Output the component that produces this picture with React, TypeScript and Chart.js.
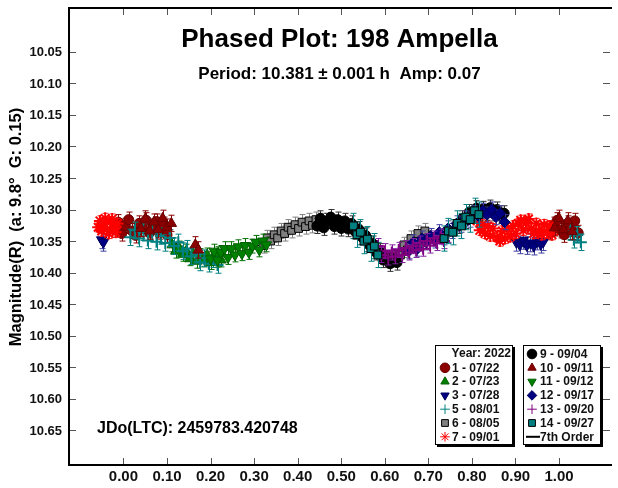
import React, { useEffect, useRef } from "react";
import { Chart, registerables } from "chart.js";
import { drawPoint } from "chart.js/helpers";

Chart.register(...registerables);

const FONT = "'Liberation Sans', Arial, Helvetica, sans-serif";

// ---------- tick labels ----------
const xTickValues = [0, 0.1, 0.2, 0.3, 0.4, 0.5, 0.6, 0.7, 0.8, 0.9, 1.0];
const yTickValues = [10.05, 10.1, 10.15, 10.2, 10.25, 10.3, 10.35, 10.4, 10.45, 10.5, 10.55, 10.6, 10.65];

// ---------- session data (phase, magnitude) ----------
const s1Phase = [-0.02, -0.012, -0.004, 0.004, 0.012, 0.02, 0.028, 0.036, 0.044, 0.052, 0.06, 0.068, 0.076, 0.084, 0.092, 0.1, 0.98, 0.988, 0.996, 1.004, 1.012, 1.02, 1.028, 1.036, 1.044];
const s1Mag = [10.332, 10.32, 10.338, 10.326, 10.316, 10.334, 10.341, 10.322, 10.33, 10.317, 10.337, 10.327, 10.319, 10.335, 10.324, 10.34, 10.336, 10.324, 10.317, 10.333, 10.34, 10.322, 10.331, 10.318, 10.337];

const s2Phase = [0.112, 0.12, 0.128, 0.136, 0.144, 0.152, 0.16, 0.168, 0.176, 0.184, 0.192, 0.2, 0.208, 0.216, 0.224];
const s2Mag = [10.356, 10.366, 10.361, 10.371, 10.366, 10.378, 10.37, 10.382, 10.373, 10.38, 10.372, 10.384, 10.375, 10.37, 10.38];

const s3Phase = [-0.05, -0.046, 0.902, 0.91, 0.918, 0.926, 0.934, 0.942, 0.95, 0.958, 0.964];
const s3Mag = [10.348, 10.352, 10.352, 10.356, 10.349, 10.357, 10.353, 10.358, 10.35, 10.355, 10.351];

const s5Phase = [0.016, 0.026, 0.036, 0.046, 0.056, 0.066, 0.076, 0.086, 0.096, 0.106, 0.116, 0.126, 0.136, 0.146, 0.156, 0.166, 0.176, 0.186, 0.196, 0.206, 0.216, 1.026, 1.034, 1.042, 1.05];
const s5Mag = [10.344, 10.333, 10.346, 10.336, 10.349, 10.338, 10.351, 10.342, 10.353, 10.345, 10.358, 10.352, 10.366, 10.362, 10.374, 10.37, 10.384, 10.377, 10.386, 10.379, 10.388, 10.335, 10.348, 10.34, 10.352];

const s6Phase = [0.322, 0.33, 0.338, 0.346, 0.354, 0.362, 0.37, 0.378, 0.386, 0.394, 0.402, 0.41, 0.418, 0.426, 0.434, 0.442, 0.45, 0.458, 0.636, 0.644, 0.652, 0.66, 0.668, 0.676, 0.684, 0.692, 0.7];
const s6Mag = [10.357, 10.345, 10.35, 10.34, 10.345, 10.334, 10.338, 10.328, 10.333, 10.324, 10.33, 10.32, 10.327, 10.318, 10.325, 10.316, 10.323, 10.318, 10.372, 10.356, 10.364, 10.346, 10.356, 10.338, 10.35, 10.334, 10.345];

const s7Phase = [-0.058, -0.054, -0.05, -0.046, -0.042, -0.038, -0.034, -0.03, -0.026, -0.022, -0.018, -0.014, 0.812, 0.818, 0.824, 0.83, 0.836, 0.842, 0.848, 0.858, 0.864, 0.87, 0.876, 0.882, 0.888, 0.894, 0.9, 0.906, 0.912, 0.918, 0.924, 0.93, 0.936, 0.942, 0.948, 0.954, 0.96, 0.966, 0.972, 0.978, 0.984];
const s7Mag = [10.328, 10.318, 10.334, 10.322, 10.314, 10.331, 10.338, 10.32, 10.315, 10.33, 10.336, 10.322, 10.318, 10.333, 10.324, 10.338, 10.326, 10.342, 10.33, 10.344, 10.35, 10.334, 10.346, 10.33, 10.343, 10.326, 10.338, 10.322, 10.317, 10.333, 10.321, 10.315, 10.33, 10.338, 10.322, 10.334, 10.34, 10.324, 10.337, 10.326, 10.34];

const s9Phase = [0.444, 0.452, 0.46, 0.468, 0.476, 0.484, 0.492, 0.5, 0.508, 0.516, 0.524, 0.532, 0.54, 0.548, 0.556, 0.564, 0.572, 0.58, 0.588, 0.596, 0.604, 0.612, 0.62, 0.628, 0.77, 0.778, 0.786, 0.794, 0.802, 0.81, 0.818, 0.826, 0.834, 0.842, 0.85, 0.858, 0.866, 0.874];
const s9Mag = [10.326, 10.314, 10.329, 10.318, 10.312, 10.327, 10.316, 10.33, 10.318, 10.331, 10.322, 10.335, 10.331, 10.344, 10.341, 10.356, 10.354, 10.368, 10.366, 10.38, 10.377, 10.386, 10.379, 10.384, 10.326, 10.314, 10.318, 10.304, 10.308, 10.298, 10.306, 10.299, 10.305, 10.297, 10.306, 10.3, 10.31, 10.306];

const s10Phase = [0.04, 0.05, 0.06, 0.07, 0.08, 0.09, 0.1, 0.11, 0.165, 0.172, 0.99, 1.0, 1.01, 1.02, 1.03];
const s10Mag = [10.33, 10.315, 10.334, 10.32, 10.332, 10.314, 10.328, 10.322, 10.356, 10.364, 10.329, 10.314, 10.332, 10.318, 10.335];

const s11Phase = [0.2, 0.208, 0.216, 0.224, 0.232, 0.24, 0.248, 0.256, 0.264, 0.272, 0.28, 0.288, 0.296, 0.304, 0.312, 0.32, 0.328];
const s11Mag = [10.378, 10.366, 10.38, 10.368, 10.362, 10.376, 10.362, 10.372, 10.359, 10.37, 10.357, 10.368, 10.358, 10.352, 10.364, 10.35, 10.356];

const s12Phase = [0.655, 0.665, 0.675, 0.685, 0.695, 0.705, 0.715, 0.725, 0.735, 0.745, 0.755, 0.765, 0.775, 0.785, 0.795, 0.805, 0.815, 0.825, 0.835, 0.845, 0.855, 0.865, 0.875];
const s12Mag = [10.366, 10.352, 10.362, 10.346, 10.352, 10.342, 10.349, 10.336, 10.344, 10.33, 10.334, 10.322, 10.324, 10.314, 10.316, 10.306, 10.31, 10.302, 10.308, 10.3, 10.312, 10.306, 10.32];

const s13Phase = [0.584, 0.592, 0.6, 0.608, 0.616, 0.624, 0.632, 0.64, 0.648, 0.656, 0.664, 0.672, 0.68, 0.688, 0.696, 0.704, 0.712, 0.72, 0.728, 0.736, 0.744];
const s13Mag = [10.358, 10.372, 10.366, 10.376, 10.368, 10.374, 10.364, 10.372, 10.361, 10.368, 10.358, 10.364, 10.354, 10.362, 10.35, 10.357, 10.346, 10.353, 10.343, 10.35, 10.34];

const s14Phase = [0.528, 0.536, 0.544, 0.552, 0.56, 0.568, 0.576, 0.584, 0.736, 0.746, 0.756, 0.766, 0.776, 0.786, 0.796, 0.806, 0.816];
const s14Mag = [10.326, 10.34, 10.336, 10.35, 10.347, 10.362, 10.358, 10.372, 10.346, 10.334, 10.336, 10.322, 10.326, 10.312, 10.316, 10.302, 10.308];

// per-session error (mag)
const sessionErr = [0.012, 0.011, 0.014, 0.013, 0.012, 0.008, 0.012, 0.013, 0.011, 0.012, 0.012, 0.02];

// 7th order fit curve
const fitPhase = [-0.05, 0, 0.05, 0.1, 0.15, 0.2, 0.25, 0.3, 0.35, 0.4, 0.45, 0.5, 0.55, 0.6, 0.65, 0.7, 0.75, 0.8, 0.85, 0.9, 0.95, 1.0, 1.05];
const fitMag = [10.33, 10.331, 10.334, 10.345, 10.366, 10.376, 10.37, 10.36, 10.342, 10.327, 10.32, 10.322, 10.338, 10.368, 10.365, 10.348, 10.33, 10.31, 10.31, 10.325, 10.333, 10.331, 10.334];

const sessionLabels = ["1 - 07/22", "2 - 07/23", "3 - 07/28", "5 - 08/01", "6 - 08/05", "7 - 09/01", "9 - 09/04", "10 - 09/11", "11 - 09/12", "12 - 09/17", "13 - 09/20", "14 - 09/27"];

type Sty = { bg: string; border: string; style: string; rot: number; r: number; bw: number; err: string };
const styles: Sty[] = [
  { bg: "#8B0000", border: "#6a0000", style: "circle", rot: 0, r: 5, bw: 1, err: "#8B0000" },
  { bg: "#008000", border: "#006000", style: "triangle", rot: 0, r: 6, bw: 1, err: "#007000" },
  { bg: "#000080", border: "#000060", style: "triangle", rot: 180, r: 6, bw: 1, err: "#4040a0" },
  { bg: "#008080", border: "#008080", style: "cross", rot: 0, r: 6, bw: 2, err: "#008080" },
  { bg: "#808080", border: "#000000", style: "rect", rot: 0, r: 5.5, bw: 1, err: "#808080" },
  { bg: "#ff0000", border: "#ff0000", style: "star", rot: 0, r: 6, bw: 2, err: "#ff2020" },
  { bg: "#000000", border: "#000000", style: "circle", rot: 0, r: 5, bw: 1, err: "#303030" },
  { bg: "#8B0000", border: "#6a0000", style: "triangle", rot: 0, r: 6, bw: 1, err: "#8B0000" },
  { bg: "#008000", border: "#006000", style: "triangle", rot: 180, r: 6, bw: 1, err: "#007000" },
  { bg: "#000080", border: "#000060", style: "rectRot", rot: 0, r: 5.5, bw: 1, err: "#4040a0" },
  { bg: "#800080", border: "#800080", style: "cross", rot: 0, r: 6, bw: 2, err: "#8020a0" },
  { bg: "#008080", border: "#000000", style: "rect", rot: 0, r: 5.5, bw: 1, err: "#008080" },
];

const phases = [s1Phase, s2Phase, s3Phase, s5Phase, s6Phase, s7Phase, s9Phase, s10Phase, s11Phase, s12Phase, s13Phase, s14Phase];
const mags = [s1Mag, s2Mag, s3Mag, s5Mag, s6Mag, s7Mag, s9Mag, s10Mag, s11Mag, s12Mag, s13Mag, s14Mag];

const X_MIN = -0.125, X_MAX = 1.117, Y_MIN = 9.9805, Y_MAX = 10.705;

const errorBarPlugin = {
  id: "errbars",
  beforeDatasetDraw(chart: any, args: any) {
    const ds = chart.data.datasets[args.index];
    if (!ds.err) return;
    const { ctx, scales, chartArea } = chart;
    const xs = scales.x, ys = scales.y;
    ctx.save();
    ctx.beginPath();
    ctx.rect(chartArea.left, chartArea.top, chartArea.right - chartArea.left, chartArea.bottom - chartArea.top);
    ctx.clip();
    ctx.strokeStyle = ds.errColor;
    ctx.lineWidth = 1;
    ctx.beginPath();
    for (const p of ds.data) {
      const x = Math.round(xs.getPixelForValue(p.x)) + 0.5;
      const y1 = ys.getPixelForValue(p.y - ds.err);
      const y2 = ys.getPixelForValue(p.y + ds.err);
      ctx.moveTo(x, y1); ctx.lineTo(x, y2);
      ctx.moveTo(x - 3, y1); ctx.lineTo(x + 3, y1);
      ctx.moveTo(x - 3, y2); ctx.lineTo(x + 3, y2);
    }
    ctx.stroke();
    ctx.restore();
  },
};

function legendSymbol(ctx: CanvasRenderingContext2D, s: Sty, x: number, y: number) {
  ctx.save();
  ctx.fillStyle = s.bg;
  ctx.strokeStyle = s.border;
  drawPoint(ctx, { pointStyle: s.style as any, radius: 4.8, rotation: s.rot, borderWidth: s.bw }, x, y);
  ctx.restore();
}

const decorPlugin = {
  id: "decor",
  beforeDraw(chart: any) {
    const { ctx, width, height } = chart;
    ctx.save();
    ctx.fillStyle = "#fff";
    ctx.fillRect(0, 0, width, height);
    ctx.restore();
  },
  afterDraw(chart: any) {
    const { ctx, chartArea: a, scales } = chart;
    const xs = scales.x, ys = scales.y;
    ctx.save();
    // inward tick marks
    ctx.strokeStyle = "#555";
    ctx.lineWidth = 1;
    ctx.beginPath();
    for (const v of xTickValues) {
      const x = Math.round(xs.getPixelForValue(v)) + 0.5;
      ctx.moveTo(x, a.bottom); ctx.lineTo(x, a.bottom - 7);
      ctx.moveTo(x, a.top); ctx.lineTo(x, a.top + 7);
    }
    for (const v of yTickValues) {
      const y = Math.round(ys.getPixelForValue(v)) + 0.5;
      ctx.moveTo(a.left, y); ctx.lineTo(a.left + 7, y);
      ctx.moveTo(a.right, y); ctx.lineTo(a.right - 7, y);
    }
    ctx.stroke();
    // frame (left, top, bottom; right edge lies at the picture border)
    ctx.strokeStyle = "#000";
    ctx.lineWidth = 2;
    ctx.beginPath();
    ctx.moveTo(a.right + 2, a.top);
    ctx.lineTo(a.left, a.top);
    ctx.lineTo(a.left, a.bottom);
    ctx.lineTo(a.right + 2, a.bottom);
    ctx.stroke();

    // tick labels
    ctx.fillStyle = "#111";
    ctx.textBaseline = "middle";
    ctx.textAlign = "center";
    ctx.font = `bold 15px ${FONT}`;
    for (const v of xTickValues) {
      ctx.fillText(v.toFixed(2), xs.getPixelForValue(v), a.bottom + 12);
    }
    ctx.textAlign = "right";
    ctx.font = `bold 13px ${FONT}`;
    for (const v of yTickValues) {
      ctx.fillText(v.toFixed(2), a.left - 7, ys.getPixelForValue(v) + 1);
    }

    // titles
    ctx.fillStyle = "#000";
    ctx.textAlign = "center";
    ctx.textBaseline = "middle";
    const cx = (a.left + a.right) / 2;
    ctx.font = `bold 26px ${FONT}`;
    ctx.fillText("Phased Plot: 198 Ampella", cx, 40);
    ctx.font = `bold 17px ${FONT}`;
    ctx.fillText("Period: 10.381 \u00b1 0.001 h  Amp: 0.07", cx, 74);

    ctx.textAlign = "left";
    ctx.font = `bold 16px ${FONT}`;
    ctx.fillText("JDo(LTC): 2459783.420748", 97, 429);

    // y axis title
    ctx.save();
    ctx.translate(16, 227);
    ctx.rotate(-Math.PI / 2);
    ctx.textAlign = "center";
    ctx.font = `bold 16.5px ${FONT}`;
    ctx.fillText("Magnitude(R)  (a: 9.8\u00b0  G: 0.15)", 0, 0);
    ctx.restore();

    // legend boxes
    const box = (x1: number, y1: number, x2: number, y2: number) => {
      ctx.fillStyle = "#000";
      ctx.fillRect(x1 + 2, y1 + 2, x2 - x1, y2 - y1);
      ctx.fillStyle = "#fff";
      ctx.fillRect(x1, y1, x2 - x1, y2 - y1);
      ctx.strokeStyle = "#000";
      ctx.lineWidth = 1;
      ctx.strokeRect(x1 + 0.5, y1 + 0.5, x2 - x1 - 1, y2 - y1 - 1);
    };
    box(435, 345, 513, 445);
    box(523, 345, 601, 445);

    ctx.font = `bold 12px ${FONT}`;
    ctx.textBaseline = "middle";
    const dy = 13.8;
    ctx.fillStyle = "#111";
    ctx.textAlign = "right";
    ctx.fillText("Year: 2022", 511, 354);
    ctx.textAlign = "left";
    for (let i = 0; i < 6; i++) {
      const y = 354 + (i + 1) * dy;
      legendSymbol(ctx, styles[i], 445, y);
      ctx.fillStyle = "#111";
      ctx.fillText(sessionLabels[i], 452, y + 0.5);
    }
    for (let i = 6; i < 12; i++) {
      const y = 354 + (i - 6) * dy;
      legendSymbol(ctx, styles[i], 532, y);
      ctx.fillStyle = "#111";
      ctx.fillText(sessionLabels[i], 540, y + 0.5);
    }
    const yl = 354 + 6 * dy;
    ctx.strokeStyle = "#000";
    ctx.lineWidth = 2;
    ctx.beginPath();
    ctx.moveTo(526, yl); ctx.lineTo(540, yl);
    ctx.stroke();
    ctx.fillStyle = "#111";
    ctx.fillText("7th Order", 540, yl + 0.5);
    ctx.restore();
  },
};

export default function App() {
  const ref = useRef<HTMLCanvasElement>(null);
  useEffect(() => {
    const datasets: any[] = phases.map((ph, i) => {
      const s = styles[i];
      return {
        label: sessionLabels[i],
        data: ph.map((p, j) => ({ x: p, y: mags[i][j] })),
        pointStyle: s.style,
        pointRadius: s.r,
        pointRotation: s.rot,
        pointBackgroundColor: s.bg,
        pointBorderColor: s.border,
        pointBorderWidth: s.bw,
        showLine: false,
        err: sessionErr[i],
        errColor: s.err,
        order: 50 - i,
      };
    });
    datasets.push({
      type: "line",
      label: "7th Order",
      data: fitPhase.map((p, j) => ({ x: p, y: fitMag[j] })),
      borderColor: "#000",
      borderWidth: 1.5,
      pointRadius: 0,
      tension: 0.4,
      order: 100,
    });
    const chart = new Chart(ref.current!, {
      type: "scatter",
      data: { datasets },
      options: {
        animation: false,
        responsive: false,
        events: [],
        layout: { padding: { top: 6, right: 0, left: 69, bottom: 23 } },
        plugins: { legend: { display: false }, tooltip: { enabled: false }, title: { display: false } },
        scales: {
          x: { type: "linear", display: false, min: X_MIN, max: X_MAX },
          y: { type: "linear", display: false, reverse: true, min: Y_MIN, max: Y_MAX },
        },
      },
      plugins: [errorBarPlugin, decorPlugin],
    } as any);
    return () => chart.destroy();
  }, []);
  return (
    <div style={{ position: "fixed", left: 0, top: 0, width: 618, height: 488, background: "#fff" }}>
      <canvas ref={ref} width={618} height={488} style={{ display: "block", width: 618, height: 488 }} />
    </div>
  );
}
